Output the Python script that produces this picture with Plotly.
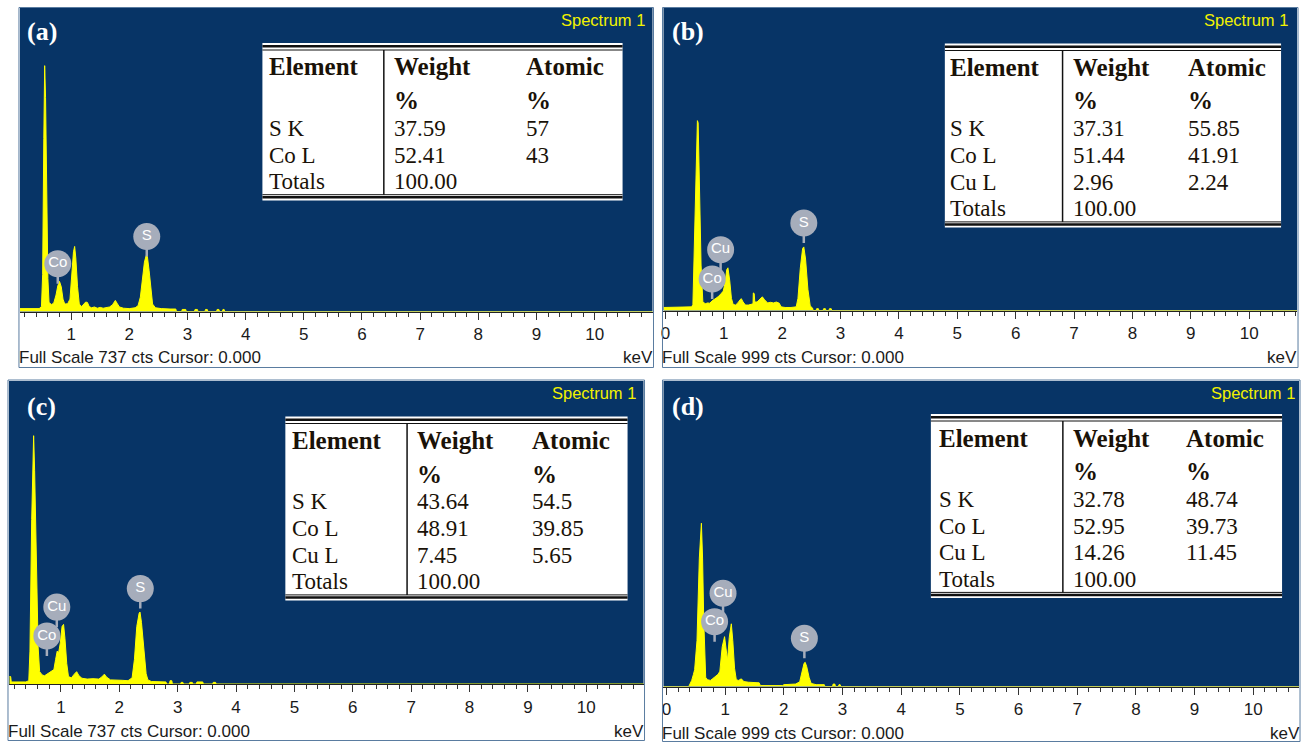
import plotly.graph_objects as go

W, H = 1309, 742

# ---------------- data ----------------
tick_vals = [0, 1, 2, 3, 4, 5, 6, 7, 8, 9, 10]
tick_text = ["0", "1", "2", "3", "4", "5", "6", "7", "8", "9", "10"]

# (a)
energy_a = [0.12, 0.30, 0.45, 0.49, 0.51, 0.53, 0.545, 0.56, 0.58, 0.60, 0.62, 0.66, 0.70, 0.74, 0.77,
            0.80, 0.83, 0.86, 0.89, 0.94, 0.98, 1.01, 1.04, 1.06, 1.08, 1.11, 1.14, 1.18, 1.22, 1.25,
            1.28, 1.31, 1.35, 1.40, 1.45, 1.50, 1.55, 1.60, 1.66, 1.71, 1.74, 1.76, 1.79, 1.83, 1.90,
            2.00, 2.10, 2.15, 2.19, 2.23, 2.26, 2.29, 2.31, 2.34, 2.37, 2.40, 2.45, 2.55, 2.70, 2.80,
            2.81, 2.90, 2.91, 2.97, 2.98, 3.12, 3.13, 3.17, 3.18, 3.30, 3.31, 3.34, 3.35, 3.50, 3.51,
            3.54, 3.55, 3.60, 3.61, 3.63, 3.64, 11.0]
counts_a = [7, 7, 7, 12, 90, 420, 597, 520, 260, 80, 22, 17, 20, 40, 62,
            73, 60, 30, 18, 19, 30, 90, 145, 158, 130, 60, 18, 12, 18, 23,
            22, 12, 9, 11, 8, 10, 8, 9, 11, 16, 24, 27, 20, 11, 8,
            7, 9, 14, 35, 80, 120, 136, 134, 100, 50, 18, 9, 7, 6, 6,
            0, 0, 5, 5, 0, 0, 5, 5, 0, 0, 5, 5, 0, 0, 5,
            5, 0, 0, 5, 5, 0, 0]
labels_a = ["Co", "S"]
label_x_a = [0.77, 2.30]
label_y_a = [116, 182]
full_scale_a = 737
elements_a = ["S K", "Co L"]
weight_a = ["37.59", "52.41"]
atomic_a = ["57", "43"]

# (b)
energy_b = [-0.03, 0.30, 0.45, 0.47, 0.50, 0.53, 0.547, 0.56, 0.585, 0.61, 0.64, 0.68, 0.72, 0.76, 0.80,
            0.85, 0.90, 0.95, 0.99, 1.02, 1.05, 1.07, 1.10, 1.13, 1.16, 1.20, 1.24, 1.28, 1.30, 1.33,
            1.37, 1.42, 1.47, 1.50, 1.505, 1.52, 1.53, 1.57, 1.62, 1.66, 1.70, 1.75, 1.80, 1.85, 1.90,
            1.95, 1.98, 2.05, 2.15, 2.24, 2.27, 2.31, 2.35, 2.37, 2.40, 2.44, 2.48, 2.52, 2.53, 2.58,
            2.59, 2.62, 2.63, 2.70, 2.71, 2.74, 2.75, 2.80, 2.81, 2.84, 2.85, 10.82]
counts_b = [10, 10, 12, 20, 250, 560, 627, 620, 400, 150, 30, 22, 25, 24, 32,
            38, 45, 55, 64, 90, 135, 141, 100, 40, 20, 18, 25, 36, 39, 28,
            18, 18, 20, 22, 58, 56, 28, 28, 38, 45, 35, 25, 27, 25, 28,
            24, 12, 10, 10, 12, 40, 140, 205, 210, 170, 70, 15, 8, 0, 0,
            6, 6, 0, 0, 6, 6, 0, 0, 6, 6, 0, 0]
labels_b = ["Co", "Cu", "S"]
label_x_b = [0.80, 0.945, 2.37]
label_y_b = [104, 201, 289]
full_scale_b = 999
elements_b = ["S K", "Co L", "Cu L"]
weight_b = ["37.31", "51.44", "2.96"]
atomic_b = ["55.85", "41.91", "2.24"]

# (c)
energy_c = [0.12, 0.14, 0.15, 0.40, 0.45, 0.47, 0.50, 0.533, 0.55, 0.58, 0.61, 0.636, 0.68, 0.72, 0.76,
            0.80, 0.84, 0.88, 0.91, 0.937, 0.96, 0.99, 1.02, 1.046, 1.07, 1.10, 1.13, 1.18, 1.23, 1.27,
            1.31, 1.36, 1.45, 1.55, 1.65, 1.70, 1.745, 1.78, 1.85, 1.95, 2.05, 2.15, 2.22, 2.26, 2.30,
            2.34, 2.355, 2.38, 2.42, 2.46, 2.49, 2.55, 2.80, 2.81, 2.86, 2.87, 2.90, 2.91, 3.05, 3.06,
            3.09, 3.10, 3.20, 3.21, 3.25, 3.26, 3.32, 3.33, 3.43, 3.44, 3.60, 3.61, 3.65, 3.66, 11.0]
counts_c = [18, 18, 5, 5, 8, 80, 400, 604, 520, 280, 90, 30, 22, 20, 24,
            27, 30, 35, 60, 80, 75, 100, 140, 145, 110, 50, 18, 15, 24, 30,
            20, 14, 12, 13, 12, 17, 24, 17, 10, 10, 9, 8, 15, 60, 140,
            172, 175, 150, 80, 25, 10, 6, 5, 0, 0, 8, 8, 0, 0, 4,
            4, 0, 0, 4, 4, 0, 0, 5, 5, 0, 0, 4, 4, 0, 0]
labels_c = ["Co", "Cu", "S"]
label_x_c = [0.76, 0.93, 2.36]
label_y_c = [117, 187, 232]
full_scale_c = 737
elements_c = ["S K", "Co L", "Cu L"]
weight_c = ["43.64", "48.91", "7.45"]
atomic_c = ["54.5", "39.85", "5.65"]

# (d)
energy_d = [-0.05, 0.38, 0.40, 0.43, 0.46, 0.48, 0.52, 0.56, 0.595, 0.615, 0.635, 0.65, 0.668, 0.70, 0.75,
            0.79, 0.83, 0.88, 0.91, 0.95, 0.99, 1.02, 1.04, 1.07, 1.105, 1.13, 1.16, 1.19, 1.23, 1.275,
            1.32, 1.40, 1.50, 1.58, 1.60, 1.98, 2.00, 2.10, 2.20, 2.27, 2.31, 2.345, 2.364, 2.39, 2.43,
            2.466, 2.55, 2.69, 2.70, 2.83, 2.84, 2.87, 2.88, 2.93, 2.94, 2.96, 2.97, 10.78]
counts_d = [0, 0, 8, 20, 40, 55, 150, 420, 534, 420, 220, 90, 30, 22, 20,
            26, 32, 40, 50, 130, 163, 120, 85, 160, 205, 150, 60, 22, 20, 25,
            16, 14, 13, 12, 3, 3, 6, 7, 8, 15, 50, 76, 79, 65, 30,
            10, 6, 6, 0, 0, 8, 8, 0, 0, 6, 6, 0, 0]
labels_d = ["Co", "Cu", "S"]
label_x_d = [0.82, 0.964, 2.35]
label_y_d = [212, 305, 158]
full_scale_d = 999
elements_d = ["S K", "Co L", "Cu L"]
weight_d = ["32.78", "52.95", "14.26"]
atomic_d = ["48.74", "39.73", "11.45"]

panel_letters = ["(a)", "(b)", "(c)", "(d)"]
table_headers = ["Element", "Weight", "Atomic"]

# ---------------- layout config (pixels) ----------------
BLUE = "#073466"
YELLOW = "#ffff00"
GRAY = "#a6adbb"
FRAME = "#5a7ca0"
TXT = "#1a1a1a"
SANS = "Liberation Sans, Arial, sans-serif"
SERIF = "Liberation Serif, Times New Roman, serif"

panels = [
    dict(e=energy_a, c=counts_a, lab=labels_a, lx=label_x_a, ly=label_y_a, fs=full_scale_a,
         el=elements_a, wt=weight_a, at=atomic_a,
         frame=(16, 7.5, 652, 367.5), plot=(17, 8, 651, 311.5), xr=(0.12, 10.995),
         letter=(22, 31.5), spec=(645, 20), full=(14, 357), kev=(653, 357),
         table=dict(x0=260, x1=621, top=43, vx=381.7, cols=(268, 393, 525))),
    dict(e=energy_b, c=counts_b, lab=labels_b, lx=label_x_b, ly=label_y_b, fs=full_scale_b,
         el=elements_b, wt=weight_b, at=atomic_b,
         frame=(661, 7.5, 1298, 367.5), plot=(662, 8, 1297, 310.5), xr=(-0.034, 10.82),
         letter=(669, 31.5), spec=(1290, 20), full=(659, 357), kev=(1299, 357),
         table=dict(x0=944, x1=1281, top=43.5, vx=1062, cols=(950, 1073, 1189))),
    dict(e=energy_c, c=counts_c, lab=labels_c, lx=label_x_c, ly=label_y_c, fs=full_scale_c,
         el=elements_c, wt=weight_c, at=atomic_c,
         frame=(5, 380, 643, 740.5), plot=(6, 381, 642, 684), xr=(0.111, 10.98),
         letter=(22, 406.5), spec=(636, 393), full=(3, 731), kev=(644, 731),
         table=dict(x0=283, x1=626, top=416.5, vx=405, cols=(291, 416, 531))),
    dict(e=energy_d, c=counts_d, lab=labels_d, lx=label_x_d, ly=label_y_d, fs=full_scale_d,
         el=elements_d, wt=weight_d, at=atomic_d,
         frame=(661, 380, 1300, 741.5), plot=(662, 381, 1299, 686.5), xr=(-0.051, 10.78),
         letter=(669, 406.5), spec=(1297, 393), full=(659, 733), kev=(1302, 733),
         table=dict(x0=930, x1=1282, top=414, vx=1062.3, cols=(939.3, 1073, 1186.7))),
]

PAD = 3  # annotation inner padding compensation


def px(x):
    return x / W


def py(y):
    return 1 - y / H


fig = go.Figure()
shapes = []
annotations = []
layout_axes = {}

for i, p in enumerate(panels):
    n = "" if i == 0 else str(i + 1)
    xa, ya = "x" + n, "y" + n
    fx0, fy0, fx1, fy1 = p["frame"]
    x0, y0, x1, y1 = p["plot"]

    fig.add_trace(go.Scatter(x=p["e"], y=p["c"], mode="lines", fill="tozeroy",
                             fillcolor=YELLOW, line=dict(color=YELLOW, width=1),
                             xaxis=xa, yaxis=ya, hoverinfo="skip", showlegend=False))
    fig.add_trace(go.Scatter(x=p["lx"], y=p["ly"], mode="markers+text", text=p["lab"],
                             textposition="middle center",
                             textfont=dict(family=SANS, size=15, color="white"),
                             marker=dict(size=27, color=GRAY, line=dict(width=0)),
                             xaxis=xa, yaxis=ya, hoverinfo="skip", showlegend=False))
    for lx, ly in zip(p["lx"], p["ly"]):
        shapes.append(dict(type="line", xref=xa, yref=ya, x0=lx, x1=lx,
                           ysizemode="pixel", yanchor=ly, y0=-12, y1=-20,
                           line=dict(color=GRAY, width=2.5)))

    layout_axes["xaxis" + n] = dict(
        domain=[px(x0), px(x1)], range=list(p["xr"]), anchor=ya,
        showgrid=False, zeroline=False, showline=True, linecolor="#222", linewidth=1.2,
        ticks="outside", ticklen=7, tickwidth=1, tickcolor="#333",
        tickmode="array", tickvals=tick_vals, ticktext=tick_text,
        tickfont=dict(family=SANS, size=17, color=TXT),
        minor=dict(ticks="outside", ticklen=4, tickwidth=1, tickcolor="#333", tick0=0, dtick=0.2),
        fixedrange=True)
    layout_axes["yaxis" + n] = dict(
        domain=[py(y1), py(y0)], range=[0, p["fs"]], anchor=xa,
        visible=False, showgrid=False, zeroline=False, fixedrange=True)

    # frame
    shapes.append(dict(type="rect", xref="paper", yref="paper",
                       x0=px(fx0), x1=px(fx1), y0=py(fy1), y1=py(fy0),
                       line=dict(color=FRAME, width=1), fillcolor="rgba(0,0,0,0)"))

    annotations.append(dict(xref="paper", yref="paper", x=px(p["letter"][0]), y=py(p["letter"][1]),
                            xanchor="left", yanchor="middle", showarrow=False,
                            text="<b>" + panel_letters[i] + "</b>",
                            font=dict(family=SERIF, size=26, color="white")))
    annotations.append(dict(xref="paper", yref="paper", x=px(p["spec"][0]), y=py(p["spec"][1]),
                            xanchor="right", yanchor="middle", showarrow=False,
                            text="Spectrum 1", font=dict(family=SANS, size=16.5, color="#f2f200")))
    annotations.append(dict(xref="paper", yref="paper", x=px(p["full"][0]), y=py(p["full"][1]),
                            xanchor="left", yanchor="middle", showarrow=False,
                            text="Full Scale %d cts Cursor: 0.000" % p["fs"],
                            font=dict(family=SANS, size=17, color=TXT)))
    annotations.append(dict(xref="paper", yref="paper", x=px(p["kev"][0]), y=py(p["kev"][1]),
                            xanchor="right", yanchor="middle", showarrow=False,
                            text="keV", font=dict(family=SANS, size=17, color=TXT)))

    # table
    t = p["table"]
    top = t["top"]
    nrows = len(p["el"]) + 1
    row_y = [top + 85.3 + k * 26.7 for k in range(nrows)]
    thin_bot = row_y[-1] + 13
    end = thin_bot + 5.7
    shapes.append(dict(type="rect", xref="paper", yref="paper",
                       x0=px(t["x0"]), x1=px(t["x1"]), y0=py(end), y1=py(top),
                       line=dict(width=0), fillcolor="white"))
    for yy, wdt in [(top + 3.2, 2.6), (top + 7, 1), (thin_bot, 1), (thin_bot + 2.6, 2.6)]:
        shapes.append(dict(type="line", xref="paper", yref="paper",
                           x0=px(t["x0"]), x1=px(t["x1"]), y0=py(yy), y1=py(yy),
                           line=dict(color="#111", width=wdt)))
    shapes.append(dict(type="line", xref="paper", yref="paper",
                       x0=px(t["vx"]), x1=px(t["vx"]), y0=py(top + 7), y1=py(thin_bot),
                       line=dict(color="#111", width=1.5)))

    def txt(x, y, s, bold=False):
        annotations.append(dict(xref="paper", yref="paper", x=px(x - PAD), y=py(y),
                                xanchor="left", yanchor="middle", showarrow=False,
                                text=("<b>%s</b>" % s) if bold else s,
                                font=dict(family=SERIF, size=25 if bold else 23, color="#1a1208")))

    cx = t["cols"]
    for k, h in enumerate(table_headers):
        txt(cx[k], top + 24, h, True)
    txt(cx[1], top + 57.5, "%", True)
    txt(cx[2], top + 57.5, "%", True)
    for k in range(len(p["el"])):
        txt(cx[0], row_y[k], p["el"][k])
        txt(cx[1], row_y[k], p["wt"][k])
        txt(cx[2], row_y[k], p["at"][k])
    txt(cx[0], row_y[-1], "Totals")
    txt(cx[1], row_y[-1], "100.00")

fig.update_layout(width=W, height=H, margin=dict(l=0, r=0, t=0, b=0),
                  paper_bgcolor="white", plot_bgcolor=BLUE, showlegend=False,
                  shapes=shapes, annotations=annotations, **layout_axes)

fig.write_html("out.html")
